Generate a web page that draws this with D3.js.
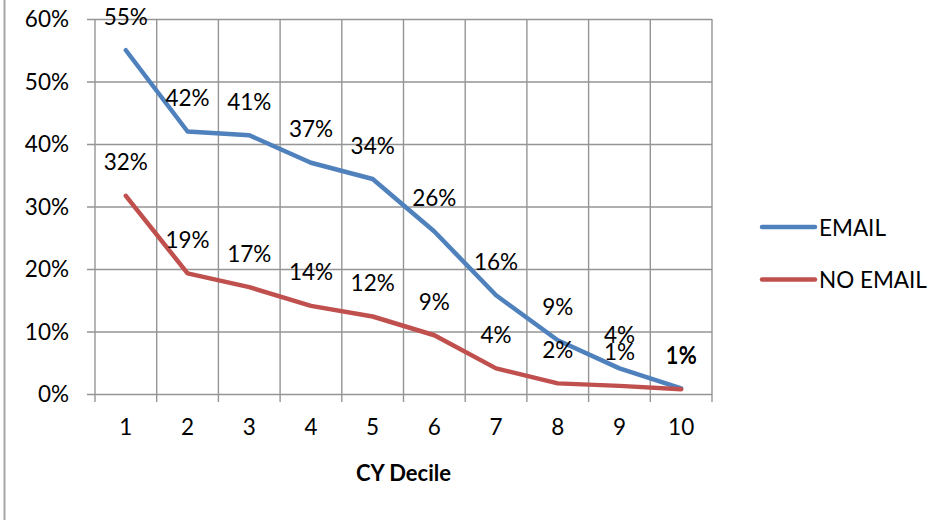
<!DOCTYPE html>
<html>
<head>
<meta charset="utf-8">
<script src="https://cdn.jsdelivr.net/npm/d3@7/dist/d3.min.js"></script>
<style>
  html, body { margin: 0; padding: 0; background: #fff; }
  svg { display: block; font-family: Lato, "Open Sans", sans-serif; }
</style>
</head>
<body>
<svg id="chart" width="928" height="520"></svg>
<script>
// Share of customers by CY decile
const deciles = ["1", "2", "3", "4", "5", "6", "7", "8", "9", "10"];
const emailValues = [0.55, 0.42, 0.414, 0.37, 0.344, 0.26, 0.158, 0.086, 0.041, 0.009];
const noEmailValues = [0.317, 0.193, 0.171, 0.141, 0.124, 0.094, 0.041, 0.017, 0.013, 0.0075];
const yTickValues = [0, 0.1, 0.2, 0.3, 0.4, 0.5, 0.6];
const seriesNames = ["EMAIL", "NO EMAIL"];
const seriesColors = ["#4F81BD", "#C0504D"];
const xTitle = "CY Decile";

const series = [
  { name: seriesNames[0], values: emailValues, color: seriesColors[0] },
  { name: seriesNames[1], values: noEmailValues, color: seriesColors[1] }
];

const svg = d3.select("#chart");
const plot = { left: 95, right: 712, top: 19, bottom: 394 };
const fontSize = 22.5;
const gridColor = "#959595";

// outer frame edge
svg.append("line")
  .attr("x1", 4.5).attr("x2", 4.5).attr("y1", 0).attr("y2", 520)
  .attr("stroke", "#a6a6a6").attr("stroke-width", 2);

const x = d3.scaleBand().domain(deciles).range([plot.left, plot.right]).padding(0);
const y = d3.scaleLinear().domain([0, 0.6]).range([plot.bottom, plot.top]);
const pct = d3.format(".0%");

// horizontal gridlines + y axis
const yAxis = d3.axisLeft(y)
  .tickValues(yTickValues)
  .tickFormat(pct)
  .tickSizeOuter(0);
const gy = svg.append("g")
  .attr("transform", `translate(${plot.right},0)`)
  .call(yAxis);
gy.select(".domain").remove();
gy.selectAll(".tick line")
  .attr("x1", 0)
  .attr("x2", -(plot.right - plot.left) - 8)
  .attr("stroke", gridColor).attr("stroke-width", 1.4);
gy.selectAll(".tick text")
  .attr("x", -(plot.right - plot.left) - 26)
  .attr("dy", "0.35em")
  .attr("font-size", fontSize).attr("font-family", "Lato, sans-serif")
  .attr("fill", "#000");

// vertical gridlines at category boundaries, extending below the axis as ticks
const boundaries = deciles.map(d => x(d)).concat([plot.right]);
svg.append("g").selectAll("line")
  .data(boundaries)
  .join("line")
  .attr("x1", d => d).attr("x2", d => d)
  .attr("y1", plot.top).attr("y2", plot.bottom + 8)
  .attr("stroke", gridColor).attr("stroke-width", 1.4);

// x axis labels
const xAxis = d3.axisBottom(x).tickSize(0).tickPadding(25);
const gx = svg.append("g")
  .attr("transform", `translate(0,${plot.bottom})`)
  .call(xAxis);
gx.select(".domain").remove();
gx.selectAll(".tick text")
  .attr("font-size", fontSize).attr("font-family", "Lato, sans-serif")
  .attr("fill", "#000");

// x axis title
svg.append("text")
  .attr("x", (plot.left + plot.right) / 2)
  .attr("y", 472)
  .attr("text-anchor", "middle")
  .attr("dominant-baseline", "central")
  .attr("font-size", 22)
  .attr("font-weight", "bold")
  .text(xTitle);

// lines
const line = d3.line()
  .x((d, i) => x(deciles[i]) + x.bandwidth() / 2)
  .y(d => y(d));

series.forEach(s => {
  svg.append("path")
    .datum(s.values)
    .attr("d", line)
    .attr("fill", "none")
    .attr("stroke", s.color)
    .attr("stroke-width", 4.5)
    .attr("stroke-linejoin", "round")
    .attr("stroke-linecap", "round");
});

// data labels above each point
series.forEach(s => {
  svg.append("g").selectAll("text")
    .data(s.values)
    .join("text")
    .attr("x", (d, i) => x(deciles[i]) + x.bandwidth() / 2)
    .attr("y", d => y(d) - 34)
    .attr("text-anchor", "middle")
    .attr("dominant-baseline", "central")
    .attr("font-size", fontSize)
    .attr("fill", "#000")
    .text(d => pct(d));
});

// legend
const legend = svg.append("g");
series.forEach((s, i) => {
  const ly = 227 + i * 52.5;
  legend.append("line")
    .attr("x1", 762).attr("x2", 815)
    .attr("y1", ly).attr("y2", ly)
    .attr("stroke", s.color).attr("stroke-width", 4.5)
    .attr("stroke-linecap", "round");
  legend.append("text")
    .attr("x", 819).attr("y", ly)
    .attr("dominant-baseline", "central")
    .attr("font-size", fontSize)
    .attr("fill", "#000")
    .text(s.name);
});
</script>
</body>
</html>
